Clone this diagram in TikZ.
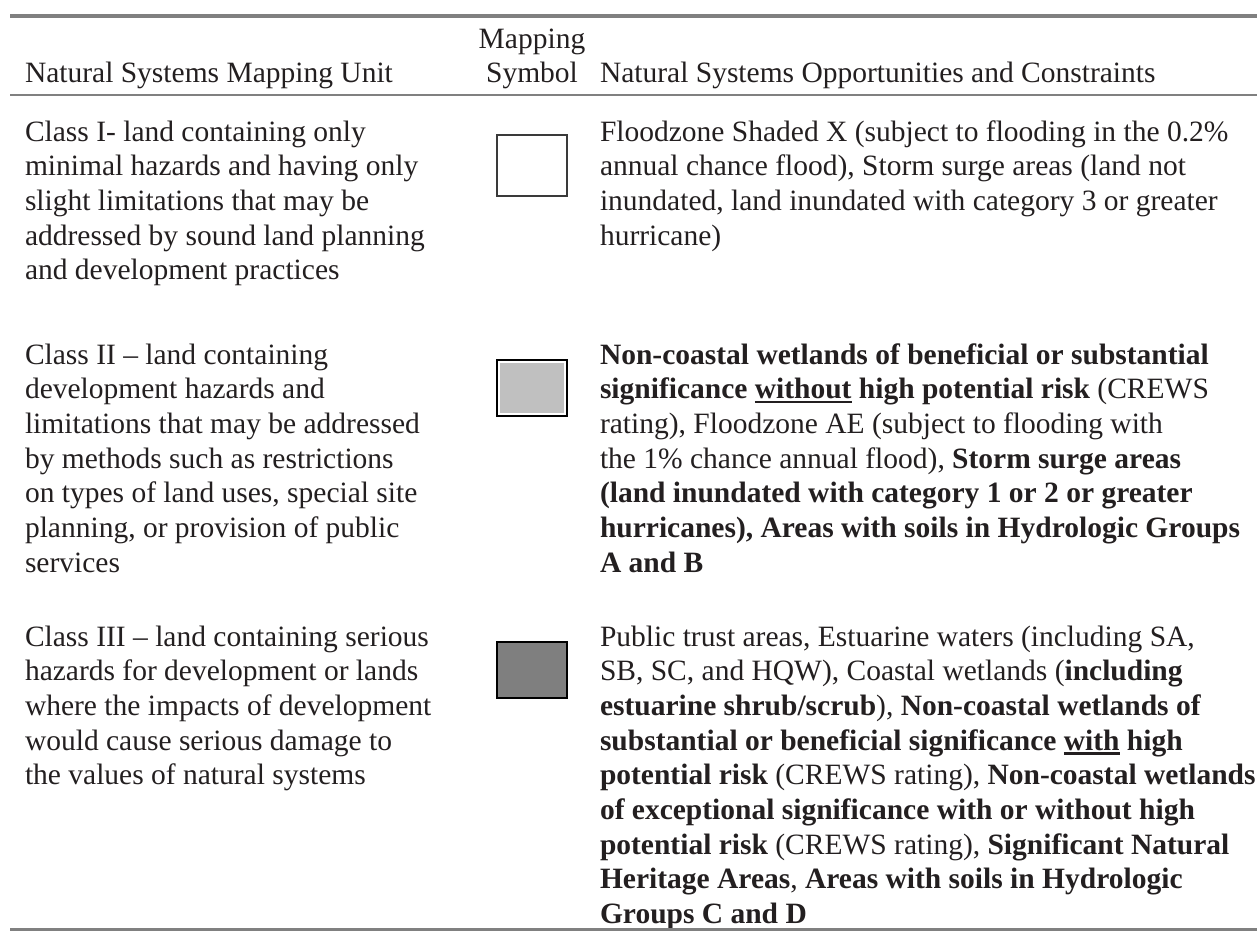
\documentclass[tikz,border=0pt]{standalone}
\usepackage{fontspec}
\setmainfont{Liberation Serif}
\definecolor{ink}{HTML}{231F20}
\definecolor{rulegray}{HTML}{808080}
\definecolor{boxlight}{HTML}{C0C0C0}
\definecolor{boxdark}{HTML}{7F7F7F}
\definecolor{boxedge}{HTML}{3A3A3A}
\newcommand\myul[1]{\setbox0\hbox{#1}\rlap{\rule[-4.5pt]{\wd0}{2.6pt}}\box0\relax}
\newcommand\cellbox[1]{\parbox[t]{720pt}{\raggedright #1}}
\begin{document}
\begin{tikzpicture}[x=1pt,y=-1pt,
  txt/.style={anchor=base west,inner sep=0pt,outer sep=0pt,font=\fontsize{29.5}{34.7}\selectfont,text=ink},
  hdr/.style={anchor=base,inner sep=0pt,outer sep=0pt,font=\fontsize{29.5}{34.7}\selectfont,text=ink},
  symbox/.style={draw=#1,inner sep=0pt,outer sep=0pt,minimum width=70pt},
  rulethick/.style={draw=rulegray,line width=#1}
]
\useasboundingbox (0,0) rectangle (1257,930);

% header
\node[txt] (h1) at (25,82) {Natural Systems Mapping Unit};
\node[hdr] (h2a) at (532,48) {Mapping};
\node[hdr] (h2b) at (532,82) {Symbol};
\node[txt] (h3) at (600,82) {Natural Systems Opportunities and Constraints};

% Class I
\node[txt] (c1) at (25,141) {\cellbox{Class I- land containing only\\
minimal hazards and having only\\
slight limitations that may be\\
addressed by sound land planning\\
and development practices}};
\node[symbox=boxedge,line width=1.6pt,fill=white,minimum height=61pt] (s1) at (532,165.5) {};
\node[txt] (d1) at (600,141) {\cellbox{Floodzone Shaded X (subject to flooding in the 0.2\%\\
annual chance flood), Storm surge areas (land not\\
inundated, land inundated with category 3 or greater\\
hurricane)}};

% Class II
\node[txt] (c2) at (25,364) {\cellbox{Class II -- land containing\\
development hazards and\\
limitations that may be addressed\\
by methods such as restrictions\\
on types of land uses, special site\\
planning, or provision of public\\
services}};
\node[symbox=black,line width=2pt,fill=white,minimum height=56pt] (s2) at (532,388) {};
\fill[boxlight] ([shift={(2.6,2.6)}]s2.north west) rectangle ([shift={(-2.6,-2.6)}]s2.south east);
\node[txt] (d2) at (600,364) {\cellbox{\textbf{Non-coastal wetlands of beneficial or substantial}\\
\textbf{significance \myul{without} high potential risk} (CREWS\\
rating), Floodzone AE (subject to flooding with\\
the 1\% chance annual flood), \textbf{Storm surge areas}\\
\textbf{(land inundated with category 1 or 2 or greater}\\
\textbf{hurricanes), Areas with soils in Hydrologic Groups}\\
\textbf{A and B}}};

% Class III
\node[txt] (c3) at (25,646) {\cellbox{Class III -- land containing serious\\
hazards for development or lands\\
where the impacts of development\\
would cause serious damage to\\
the values of natural systems}};
\node[symbox=black,line width=2pt,fill=boxdark,minimum height=56pt] (s3) at (532,670) {};
\node[txt] (d3) at (600,646) {\cellbox{Public trust areas, Estuarine waters (including SA,\\
SB, SC, and HQW), Coastal wetlands (\textbf{including}\\
\textbf{estuarine shrub/scrub}), \textbf{Non-coastal wetlands of}\\
\textbf{substantial or beneficial significance \myul{with} high}\\
\textbf{potential risk} (CREWS rating), \textbf{Non-coastal wetlands}\\
\textbf{of exceptional significance with or without high}\\
\textbf{potential risk} (CREWS rating), \textbf{Significant Natural}\\
\textbf{Heritage Areas}, \textbf{Areas with soils in Hydrologic}\\
\textbf{Groups C and D}}};

% rules
\draw[rulethick=4pt] (10,16) -- (1257,16);
\draw[rulethick=2.4pt] (10,95) -- (1257,95);
\draw[rulethick=3pt] (10,929.5) -- (1257,929.5);
\end{tikzpicture}
\end{document}
